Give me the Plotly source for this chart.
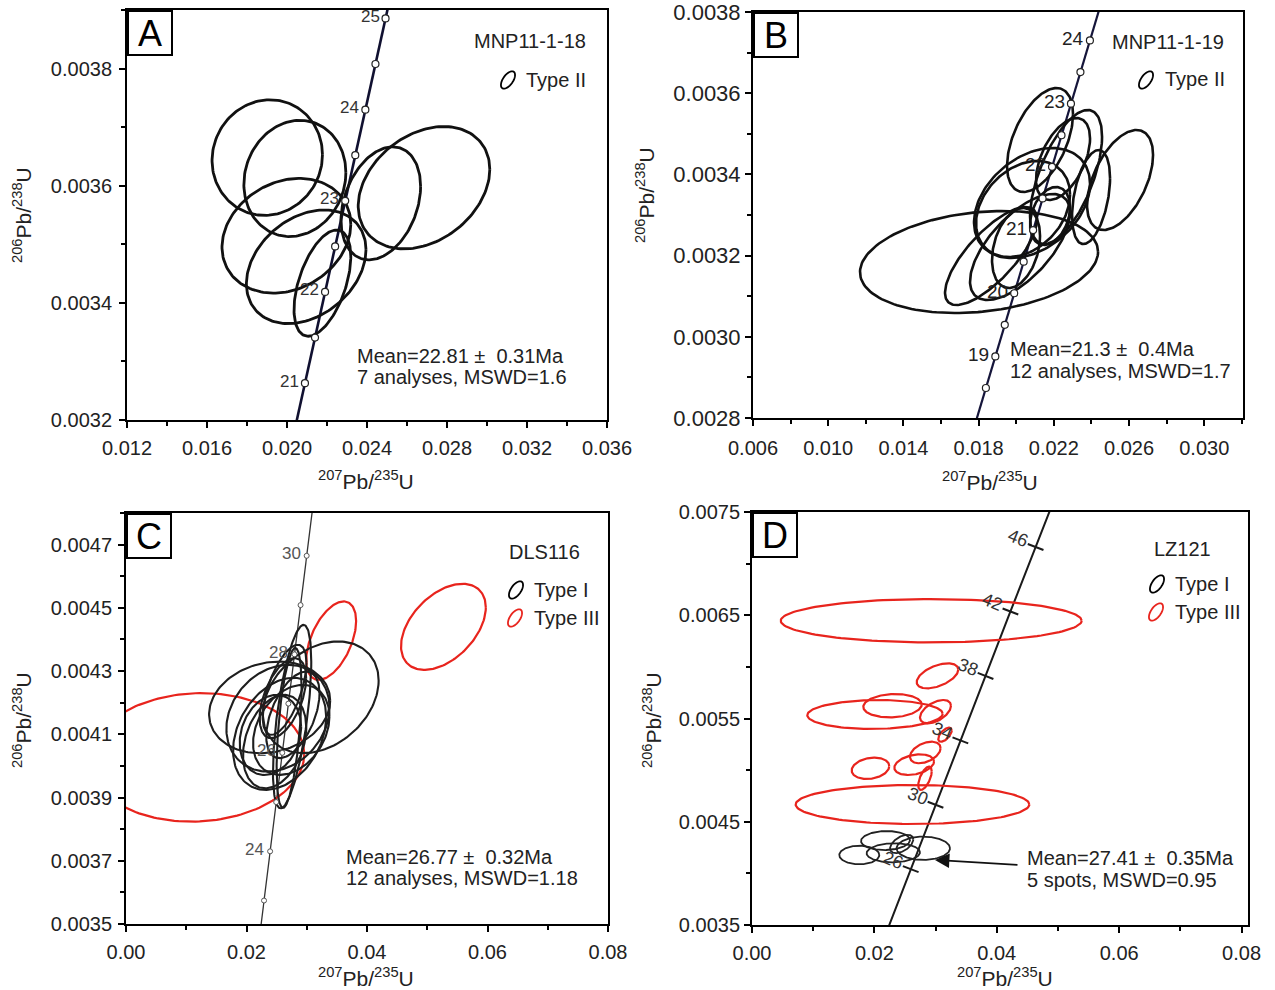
import numpy as np
import plotly.graph_objects as go

W, H = 1275, 990

# ---------------- Concordia reference table (age Ma, 207Pb/235U, 206Pb/238U) ----------------
CONC_AGE = [18.0, 18.5, 19.0, 19.5, 20.0, 20.5, 21.0, 21.5, 22.0, 22.5, 23.0, 23.5, 24.0, 24.5,
            25.0, 25.5, 26.0, 27.0, 28.0, 29.0, 30.0, 31.0, 32.0, 34.0, 38.0, 42.0, 46.0, 50.0]
CONC_R207 = [0.0178854, 0.0183867, 0.0188883, 0.0193902, 0.0198920, 0.0203946, 0.0208972, 0.0214000,
             0.0219031, 0.0224065, 0.0229100, 0.0234139, 0.0239180, 0.0244223, 0.0249268, 0.0254317,
             0.0259367, 0.0269476, 0.0279595, 0.0289724, 0.0299863, 0.0310011, 0.0320170, 0.0340514,
             0.0381615, 0.0422312, 0.0463450, 0.0504750]
CONC_R206 = [0.0027962, 0.0028739, 0.0029517, 0.0030295, 0.0031073, 0.0031851, 0.0032629, 0.0033408,
             0.0034186, 0.0034964, 0.0035742, 0.0036521, 0.0037299, 0.0038078, 0.0038856, 0.0039635,
             0.0040414, 0.0041971, 0.0043529, 0.0045087, 0.0046646, 0.0048204, 0.0049763, 0.0052882,
             0.0059121, 0.0065365, 0.0071613, 0.0077864]

# Panel A: MNP11-1-18 (Type II)
A_LINE_AGES = [20.0, 20.5, 21.0, 21.5, 22.0, 22.5, 23.0, 23.5, 24.0, 24.5, 25.0, 25.5]
A_MARK_AGES = [21.0, 21.5, 22.0, 22.5, 23.0, 23.5, 24.0, 24.5, 25.0]
A_LABEL_AGES = [21, 22, 23, 24, 25]
A_CX = [0.019013, 0.020393, 0.019970, 0.020960, 0.021770, 0.024690, 0.026850]
A_CY = [0.0036480, 0.0036124, 0.0035146, 0.0034616, 0.0034337, 0.0035699, 0.0035966]
A_AX = [0.00276, 0.00255, 0.00322, 0.00299, 0.00142, 0.00199, 0.00329]
A_AY = [0.0000987, 0.0000992, 0.0000979, 0.0000970, 0.0000907, 0.0000965, 0.0001044]
A_RHO = [0.05, 0.10, 0.20, 0.30, 0.50, 0.30, 0.30]

# Panel B: MNP11-1-19 (Type II)
B_LINE_AGES = [18.0, 18.5, 19.0, 19.5, 20.0, 20.5, 21.0, 21.5, 22.0, 22.5, 23.0, 23.5, 24.0, 24.5, 25.0]
B_MARK_AGES = [18.5, 19.0, 19.5, 20.0, 20.5, 21.0, 21.5, 22.0, 22.5, 23.0, 23.5, 24.0]
B_LABEL_AGES = [19, 20, 21, 22, 23, 24]
B_CX = [0.018021, 0.021266, 0.025521, 0.022649, 0.022489, 0.023979, 0.020840, 0.020362, 0.021798,
        0.018660, 0.020202, 0.019989]
B_CY = [0.0031842, 0.0034847, 0.0033862, 0.0033936, 0.0034379, 0.0033443, 0.0033295, 0.0033148,
        0.0032975, 0.0031990, 0.0032212, 0.0032187]
B_AX = [0.00633, 0.001755, 0.001755, 0.001915, 0.001436, 0.00101, 0.003085, 0.0025, 0.001064,
        0.002447, 0.00266, 0.001277]
B_AY = [0.0001256, 0.000128, 0.0001232, 0.000165, 0.000101, 0.0001158, 0.0001355, 0.0001182,
        0.0000714, 0.0001207, 0.0001305, 0.0000985]
B_RHO = [0.20, 0.50, 0.50, 0.60, 0.50, 0.40, 0.35, 0.30, 0.30, 0.75, 0.65, 0.30]

# Panel C: DLS116 (Type I black, Type III red)
C_LINE_AGES = [22.0, 23.0, 24.0, 25.0, 26.0, 27.0, 28.0, 29.0, 30.0, 31.0, 32.0]
C_MARK_AGES = [23.0, 24.0, 25.0, 26.0, 27.0, 28.0, 29.0, 30.0]
C_LABEL_AGES = [24, 26, 28, 30]
C1_CX = [0.03233, 0.02384, 0.02757, 0.02522, 0.02550, 0.02467, 0.02604, 0.02770, 0.02743, 0.02632,
         0.02707, 0.02397]
C1_CY = [0.004217, 0.004185, 0.004156, 0.004151, 0.0041014, 0.004077, 0.0042143, 0.0041615, 0.004114,
         0.0042406, 0.004120, 0.004098]
C1_AX = [0.00960, 0.01005, 0.00318, 0.00856, 0.00773, 0.00525, 0.00386, 0.00442, 0.00634, 0.00364,
         0.00207, 0.00510]
C1_AY = [0.0001766, 0.000145, 0.000290, 0.0001687, 0.0001772, 0.0001478, 0.0001266, 0.000137,
         0.0001424, 0.0001424, 0.000253, 0.0001266]
C1_RHO = [0.30, 0.15, 0.60, 0.20, 0.30, 0.30, 0.50, 0.50, 0.30, 0.60, 0.50, 0.20]
C3_CX = [0.011705, 0.034056, 0.052682]
C3_CY = [0.004027, 0.0043963, 0.004440]
C3_AX = [0.01788, 0.00414, 0.007036]
C3_AY = [0.0002032, 0.000124, 0.0001361]
C3_RHO = [0.05, 0.50, 0.45]

# Panel D: LZ121 (Type I black, Type III red)
D_LINE_AGES = [22.0, 26.0, 30.0, 34.0, 38.0, 42.0, 46.0, 50.0]
D_TICK_AGES = [26.0, 30.0, 34.0, 38.0, 42.0, 46.0]
D_LABEL_AGES = [26, 30, 34, 38, 42, 46]
D1_CX = [0.021814, 0.017533, 0.023088, 0.027990, 0.024460]
D1_CY = [0.004318, 0.004178, 0.0041993, 0.004243, 0.004285]
D1_AX = [0.0040, 0.00327, 0.00436, 0.00436, 0.0019]
D1_AY = [0.000092, 0.000090, 0.000092, 0.000113, 0.0000891]
D1_RHO = [0.05, 0.0, 0.05, 0.0, 0.5]
D3_CX = [0.02928, 0.026225, 0.020098, 0.022958, 0.029984, 0.030310, 0.031536, 0.028317, 0.026503,
         0.019363, 0.028268]
D3_CY = [0.006447, 0.004667, 0.005539, 0.005624, 0.005566, 0.005913, 0.005343, 0.005171, 0.005053,
         0.005018, 0.004921]
D3_AX = [0.02459, 0.01909, 0.01106, 0.00477, 0.00253, 0.0034, 0.0011, 0.0025, 0.00324, 0.00307, 0.0011]
D3_AY = [0.00021, 0.000189, 0.00014, 0.000113, 0.000113, 0.000121, 0.0000678, 0.0001046, 0.0001,
         0.0001036, 0.000113]
D3_RHO = [0.0, 0.0, 0.05, 0.1, 0.5, 0.5, 0.6, 0.4, 0.3, 0.2, 0.6]

# ---------------- helpers ----------------
AGE2IDX = {a: i for i, a in enumerate(CONC_AGE)}


def conc(ages):
    xs = [CONC_R207[AGE2IDX[float(a)]] for a in ages]
    ys = [CONC_R206[AGE2IDX[float(a)]] for a in ages]
    return xs, ys


def ellipses(cx, cy, ax, ay, rho, n=160):
    X, Y = [], []
    t = np.linspace(0, 2 * np.pi, n)
    for a, b, c, d, r in zip(cx, cy, ax, ay, rho):
        x = a + c * np.cos(t)
        y = b + d * (r * np.cos(t) + np.sqrt(1 - r * r) * np.sin(t))
        X += list(x) + [None]
        Y += list(y) + [None]
    return X, Y


def px(x):
    return x / W


def py(y):
    return 1 - y / H


FONT = "Arial, Liberation Sans, sans-serif"
BLACK = "#111111"
RED = "#e8241d"

fig = go.Figure()

# ---------------- Panel A ----------------
lx, ly = conc(A_LINE_AGES)
fig.add_trace(go.Scatter(x=lx, y=ly, mode="lines", line=dict(color="#101030", width=2.6),
                         xaxis="x", yaxis="y", hoverinfo="skip"))
ex, ey = ellipses(A_CX, A_CY, A_AX, A_AY, A_RHO)
fig.add_trace(go.Scatter(x=ex, y=ey, mode="lines", line=dict(color=BLACK, width=2.8),
                         xaxis="x", yaxis="y", hoverinfo="skip"))
mx, my = conc(A_MARK_AGES)
fig.add_trace(go.Scatter(x=mx, y=my, mode="markers", xaxis="x", yaxis="y",
                         marker=dict(size=7, color="white", line=dict(color="#222", width=1.2))))

# ---------------- Panel B ----------------
lx, ly = conc(B_LINE_AGES)
fig.add_trace(go.Scatter(x=lx, y=ly, mode="lines", line=dict(color="#15153a", width=2.2),
                         xaxis="x2", yaxis="y2", hoverinfo="skip"))
ex, ey = ellipses(B_CX, B_CY, B_AX, B_AY, B_RHO)
fig.add_trace(go.Scatter(x=ex, y=ey, mode="lines", line=dict(color=BLACK, width=2.6),
                         xaxis="x2", yaxis="y2", hoverinfo="skip"))
mx, my = conc(B_MARK_AGES)
fig.add_trace(go.Scatter(x=mx, y=my, mode="markers", xaxis="x2", yaxis="y2",
                         marker=dict(size=7, color="white", line=dict(color="#222", width=1.2))))

# ---------------- Panel C ----------------
lx, ly = conc(C_LINE_AGES)
fig.add_trace(go.Scatter(x=lx, y=ly, mode="lines", line=dict(color="#333", width=1.3),
                         xaxis="x3", yaxis="y3", hoverinfo="skip"))
ex, ey = ellipses(C3_CX, C3_CY, C3_AX, C3_AY, C3_RHO)
fig.add_trace(go.Scatter(x=ex, y=ey, mode="lines", line=dict(color=RED, width=2.2),
                         xaxis="x3", yaxis="y3", hoverinfo="skip"))
ex, ey = ellipses(C1_CX, C1_CY, C1_AX, C1_AY, C1_RHO)
fig.add_trace(go.Scatter(x=ex, y=ey, mode="lines", line=dict(color="#1e1e1e", width=2.1),
                         xaxis="x3", yaxis="y3", hoverinfo="skip"))
mx, my = conc(C_MARK_AGES)
fig.add_trace(go.Scatter(x=mx, y=my, mode="markers", xaxis="x3", yaxis="y3",
                         marker=dict(size=5, color="white", line=dict(color="#555", width=1))))

# ---------------- Panel D ----------------
lx, ly = conc(D_LINE_AGES)
fig.add_trace(go.Scatter(x=lx, y=ly, mode="lines", line=dict(color="#1a1a1a", width=2),
                         xaxis="x4", yaxis="y4", hoverinfo="skip"))
ex, ey = ellipses(D3_CX, D3_CY, D3_AX, D3_AY, D3_RHO)
fig.add_trace(go.Scatter(x=ex, y=ey, mode="lines", line=dict(color=RED, width=2.2),
                         xaxis="x4", yaxis="y4", hoverinfo="skip"))
ex, ey = ellipses(D1_CX, D1_CY, D1_AX, D1_AY, D1_RHO)
fig.add_trace(go.Scatter(x=ex, y=ey, mode="lines", line=dict(color="#222", width=1.8),
                         xaxis="x4", yaxis="y4", hoverinfo="skip"))
mx, my = conc(D_TICK_AGES)
fig.add_trace(go.Scatter(x=mx, y=my, mode="markers", xaxis="x4", yaxis="y4",
                         marker=dict(symbol="line-ew", size=12, angle=21,
                                     line=dict(color="#1a1a1a", width=2))))

# ---------------- Axes ----------------
EPS = 1e-9


def axis_common(size=20, standoff=6):
    return dict(showgrid=False, zeroline=False, showline=True, mirror=True, linecolor="black",
                linewidth=2, ticks="outside", ticklen=6, tickwidth=2, tickcolor="black",
                automargin=False, ticklabelstandoff=standoff, ticklabeloverflow="allow",
                tickfont=dict(family=FONT, size=size, color="#222"),
                minor=dict(ticks="outside", ticklen=4, tickwidth=1.5, tickcolor="black"))


layout_axes = {}
# A
layout_axes["xaxis"] = dict(axis_common(20, 3), domain=[px(127), px(607)], anchor="y",
                            range=[0.012 - EPS, 0.036 + EPS], tick0=0.012, dtick=0.004,
                            tickformat=".3f", minor_dtick=0.002)
layout_axes["yaxis"] = dict(axis_common(20, 3), domain=[py(420), py(10)], anchor="x",
                            range=[0.0032 - EPS, 0.00390], tick0=0.0032, dtick=0.0002,
                            tickformat=".4f", minor_dtick=0.0001)
# B
layout_axes["xaxis2"] = dict(axis_common(20, 5), domain=[px(753), px(1243)], anchor="y2",
                             range=[0.006 - EPS, 0.03206], tick0=0.006, dtick=0.004,
                             tickformat=".3f", minor_dtick=0.002)
layout_axes["yaxis2"] = dict(axis_common(22, 0), domain=[py(418), py(12)], anchor="x2",
                             range=[0.0028 - EPS, 0.0038 + 1e-8], tick0=0.0028, dtick=0.0002,
                             tickformat=".4f", minor_dtick=0.0001)
# C
layout_axes["xaxis3"] = dict(axis_common(20, 3), domain=[px(126), px(608)], anchor="y3",
                             range=[0 - EPS, 0.08 + EPS], tick0=0, dtick=0.02,
                             tickformat=".2f", minor_dtick=0.01)
layout_axes["yaxis3"] = dict(axis_common(20, 2), domain=[py(924), py(513)], anchor="x3",
                             range=[0.0035 - EPS, 0.00480], tick0=0.0035, dtick=0.0002,
                             tickformat=".4f", minor_dtick=0.0001)
# D
layout_axes["xaxis4"] = dict(axis_common(20, 3), domain=[px(752), px(1248)], anchor="y4",
                             range=[0 - EPS, 0.08105], tick0=0, dtick=0.02,
                             tickformat=".2f", minor_dtick=0.01)
layout_axes["yaxis4"] = dict(axis_common(20, 0), domain=[py(925), py(512)], anchor="x4",
                             range=[0.0035 - EPS, 0.0075 + EPS], tick0=0.0035, dtick=0.001,
                             tickformat=".4f", minor_dtick=0.0005)

# ---------------- Annotations ----------------
ann = []


def text(xp, yp, s, size=20, anchor="left", color="#222", **kw):
    ann.append(dict(x=px(xp), y=py(yp), xref="paper", yref="paper", text=s, showarrow=False,
                    xanchor=anchor, yanchor="middle", font=dict(family=FONT, size=size, color=color),
                    **kw))


# panel letters
for lx0, ly0, letter in [(127, 10, "A"), (753, 12, "B"), (126, 513, "C"), (752, 512, "D")]:
    ann.append(dict(x=px(lx0), y=py(ly0), xref="paper", yref="paper", text=letter,
                    showarrow=False, xanchor="left", yanchor="top", bgcolor="white",
                    bordercolor="black", borderwidth=2, borderpad=0, width=42, height=42,
                    font=dict(family=FONT, size=36, color="black")))

XT = "<sup>207</sup>Pb/<sup>235</sup>U"
YT = "<sup>206</sup>Pb/<sup>238</sup>U"
for xc, yc in [(366, 480), (990, 481), (366, 977), (1005, 977)]:
    text(xc, yc, XT, size=21, anchor="center")
for xc, yc in [(22, 215), (645, 195), (22, 720), (652, 720)]:
    text(xc, yc, YT, size=21, anchor="center", textangle=-90)

# sample names, legends, statistics
text(588, 41, "MNP11-1-18", anchor="right")
text(524, 80, "Type II")
text(355, 356, "Mean=22.81 ±  0.31Ma")
text(355, 377, "7 analyses, MSWD=1.6")

text(1226, 42, "MNP11-1-19", anchor="right")
text(1163, 79, "Type II")
text(1008, 349, "Mean=21.3 ±  0.4Ma")
text(1008, 371, "12 analyses, MSWD=1.7")

text(582, 552, "DLS116", anchor="right")
text(532, 590, "Type I")
text(532, 618, "Type III")
text(344, 857, "Mean=26.77 ±  0.32Ma")
text(344, 878, "12 analyses, MSWD=1.18")

text(1213, 549, "LZ121", anchor="right")
text(1173, 584, "Type I")
text(1173, 612, "Type III")
text(1025, 858, "Mean=27.41 ±  0.35Ma")
text(1025, 880, "5 spots, MSWD=0.95")

# arrow in D
ann.append(dict(x=0.0299, y=0.00413, xref="x4", yref="y4", ax=84, ay=5, axref="pixel",
                ayref="pixel", showarrow=True, arrowhead=2, arrowsize=1.6, arrowwidth=1.8,
                arrowcolor="#111", text=""))

# concordia age labels
for ages, xr, yr, col, size in [(A_LABEL_AGES, "x", "y", "#333", 17),
                                (B_LABEL_AGES, "x2", "y2", "#222", 19),
                                (C_LABEL_AGES, "x3", "y3", "#555", 17)]:
    lxs, lys = conc(ages)
    for a, xv, yv in zip(ages, lxs, lys):
        ann.append(dict(x=xv, y=yv, xref=xr, yref=yr, text=str(a), showarrow=False,
                        xanchor="right", yanchor="middle", xshift=-4, yshift=2,
                        font=dict(family=FONT, size=size, color=col)))
lxs, lys = conc(D_LABEL_AGES)
for a, xv, yv in zip(D_LABEL_AGES, lxs, lys):
    ann.append(dict(x=xv, y=yv, xref="x4", yref="y4", text=str(a), showarrow=False,
                    xanchor="center", yanchor="middle", xshift=-18, yshift=9, textangle=22,
                    font=dict(family=FONT, size=18, color="#333")))

# ---------------- legend glyphs (small tilted ellipses) ----------------
shapes = []


def glyph(xc, yc, color):
    t = np.linspace(0, 2 * np.pi, 40)
    a, b, ang = 10.0, 5.0, np.deg2rad(55)
    xs = xc + a * np.cos(t) * np.cos(ang) - b * np.sin(t) * np.sin(ang)
    ys = yc - (a * np.cos(t) * np.sin(ang) + b * np.sin(t) * np.cos(ang))
    path = "M " + " L ".join(f"{px(x):.5f},{py(y):.5f}" for x, y in zip(xs, ys)) + " Z"
    shapes.append(dict(type="path", path=path, xref="paper", yref="paper",
                       line=dict(color=color, width=1.8)))


glyph(508, 80, "black")
glyph(1146, 80, "black")
glyph(516, 590, "black")
glyph(515, 618, RED)
glyph(1157, 584, "black")
glyph(1156, 612, RED)

fig.update_layout(width=W, height=H, margin=dict(l=0, r=0, t=0, b=0, autoexpand=False),
                  showlegend=False, plot_bgcolor="white", paper_bgcolor="white",
                  annotations=ann, shapes=shapes, **layout_axes)

fig.write_html("out.html", config={"displayModeBar": False},
               post_script="document.body.style.margin='0';document.body.style.overflow='hidden';")
